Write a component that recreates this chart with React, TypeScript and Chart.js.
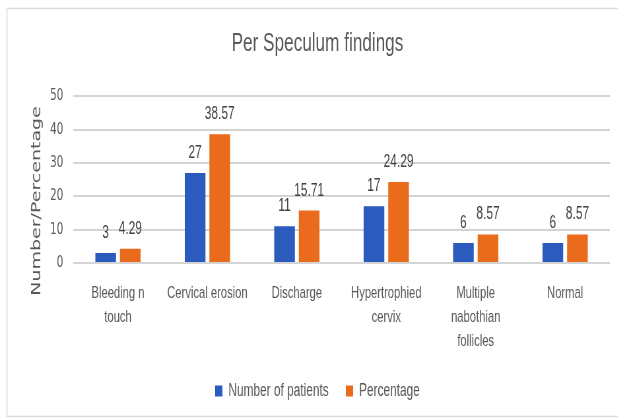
import React, { useEffect, useRef } from "react";
import { Chart, registerables } from "chart.js";

Chart.register(...registerables);

const categories: (string | string[])[] = [
  ["Bleeding n", "touch"],
  "Cervical erosion",
  "Discharge",
  ["Hypertrophied", "cervix"],
  ["Multiple", "nabothian", "follicles"],
  "Normal",
];
const numberOfPatients = [3, 27, 11, 17, 6, 6];
const percentage = [4.29, 38.57, 15.71, 24.29, 8.57, 8.57];
const yTicks = { min: 0, max: 50, step: 10 };
const chartTitle = "Per Speculum findings";
const yAxisTitle = "Number/Percentage";
const seriesNames = ["Number of patients", "Percentage"];

// The reference is horizontally compressed; draw on a wider canvas and squeeze it.
const SQUEEZE = 0.66;
const PAGE_W = 618;
const PAGE_H = 419;
const CANVAS_W = Math.round(PAGE_W / SQUEEZE);

const SANS = "'Liberation Sans', Arial, sans-serif";
const TEXT = "#595959";
const BLUE = "#2b5bbd";
const ORANGE = "#ea6b1c";

const frame = {
  id: "frame",
  beforeDraw(chart: any) {
    const ctx = chart.ctx;
    ctx.save();
    ctx.fillStyle = "#ffffff";
    ctx.fillRect(0, 0, chart.width, chart.height);
    ctx.strokeStyle = "#d9d9d9";
    ctx.lineWidth = 1.5;
    ctx.strokeRect(10.5, 8.5, chart.width, 408);
    ctx.restore();
  },
};

const yTitle = {
  id: "yTitle",
  afterDraw(chart: any) {
    const ctx = chart.ctx;
    const area = chart.chartArea;
    ctx.save();
    ctx.translate(56, area.bottom - 62);
    ctx.rotate(-Math.PI / 2);
    ctx.font = `19px 'DejaVu Sans', sans-serif`;
    ctx.fillStyle = TEXT;
    ctx.textAlign = "center";
    ctx.textBaseline = "middle";
    ctx.fillText(yAxisTitle, 0, 0);
    ctx.restore();
  },
};

const valueLabels = {
  id: "valueLabels",
  afterDatasetsDraw(chart: any) {
    const ctx = chart.ctx;
    ctx.save();
    ctx.font = `18px ${SANS}`;
    ctx.fillStyle = "#404040";
    ctx.textAlign = "center";
    ctx.textBaseline = "alphabetic";
    chart.data.datasets.forEach((ds: any, i: number) => {
      const meta = chart.getDatasetMeta(i);
      meta.data.forEach((el: any, j: number) => {
        ctx.fillText(String(ds.data[j]), el.x, el.y - 15);
      });
    });
    ctx.restore();
  },
};

export default function App() {
  const ref = useRef<HTMLCanvasElement>(null);
  useEffect(() => {
    if (!ref.current) return;
    const chart = new Chart(ref.current, {
      type: "bar",
      data: {
        labels: categories,
        datasets: [
          {
            label: seriesNames[0],
            data: numberOfPatients,
            backgroundColor: BLUE,
            barPercentage: 0.84,
            categoryPercentage: 0.55,
          },
          {
            label: seriesNames[1],
            data: percentage,
            backgroundColor: ORANGE,
            barPercentage: 0.84,
            categoryPercentage: 0.55,
          },
        ],
      },
      options: {
        animation: false,
        responsive: false,
        maintainAspectRatio: false,
        layout: { padding: { left: 38, right: 12, top: 0, bottom: 9 } },
        plugins: {
          title: {
            display: true,
            text: chartTitle,
            color: TEXT,
            font: { family: SANS, size: 26, weight: "normal" },
            padding: { top: 28, bottom: 37 },
          },
          legend: {
            position: "bottom",
            labels: {
              color: TEXT,
              font: { family: SANS, size: 18 },
              boxWidth: 11,
              boxHeight: 11,
              padding: 26,
            },
          },
          tooltip: { enabled: false },
        },
        scales: {
          x: {
            grid: { display: false, drawTicks: false },
            border: { display: false },
            ticks: {
              color: TEXT,
              font: { family: SANS, size: 17, lineHeight: 24 / 17 },
              padding: 18,
              maxRotation: 0,
              autoSkip: false,
            },
            afterFit(scale: any) {
              scale.height = 93;
            },
          },
          y: {
            min: yTicks.min,
            max: yTicks.max,
            grid: { color: "#d4d4d4", lineWidth: 2, drawTicks: false },
            border: { display: false },
            ticks: {
              stepSize: yTicks.step,
              color: TEXT,
              font: { family: "'DejaVu Sans', sans-serif", size: 16 },
              padding: 15,
            },
            title: { display: false, text: yAxisTitle },
            afterFit(scale: any) {
              scale.width = 73;
            },
          },
        },
      },
      plugins: [frame, yTitle, valueLabels],
    });
    return () => chart.destroy();
  }, []);
  return (
    <div
      style={{
        position: "fixed",
        left: 0,
        top: 0,
        width: PAGE_W,
        height: PAGE_H,
        overflow: "hidden",
        background: "#fff",
      }}
    >
      <canvas
        ref={ref}
        width={CANVAS_W}
        height={PAGE_H}
        style={{
          display: "block",
          width: CANVAS_W,
          height: PAGE_H,
          transform: `scaleX(${SQUEEZE})`,
          transformOrigin: "0 0",
        }}
      />
    </div>
  );
}
